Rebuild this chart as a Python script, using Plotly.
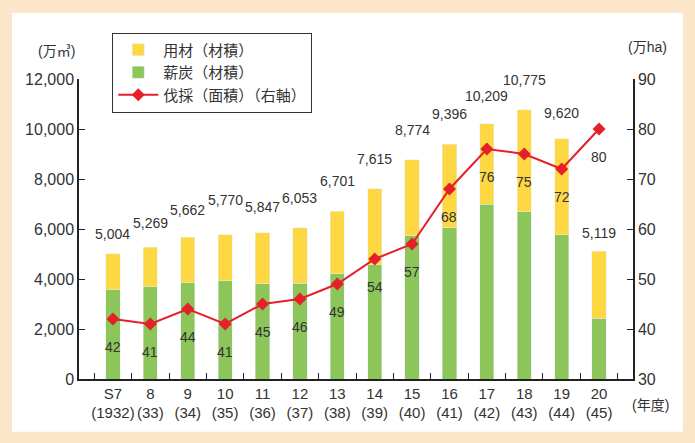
import plotly.graph_objects as go

# 年度 (昭和) と西暦
years = ["S7<br>(1932)", "8<br>(33)", "9<br>(34)", "10<br>(35)", "11<br>(36)", "12<br>(37)",
         "13<br>(38)", "14<br>(39)", "15<br>(40)", "16<br>(41)", "17<br>(42)", "18<br>(43)",
         "19<br>(44)", "20<br>(45)"]

# 材積 (万m3)
total_volume = [5004, 5269, 5662, 5770, 5847, 6053, 6701, 7615, 8774, 9396, 10209, 10775, 9620, 5119]
fuel_volume = [3570, 3700, 3860, 3930, 3820, 3840, 4210, 4570, 5730, 6060, 7000, 6700, 5770, 2440]
timber_volume = [t - f for t, f in zip(total_volume, fuel_volume)]

# 伐採面積 (万ha)
cut_area = [42, 41, 44, 41, 45, 46, 49, 54, 57, 68, 76, 75, 72, 80]

# extra lift (px) for the total labels above each bar
label_lift = [6, 10, 13, 21, 12, 16, 16, 16, 16, 16, 14, 16, 12, 4]

YELLOW = "#FDD843"
GREEN = "#8CC55A"
RED = "#E5202A"
TEXT = "#333333"
FONT = "Liberation Sans, Noto Sans CJK JP, sans-serif"

fig = go.Figure()

fig.add_trace(go.Bar(x=years, y=fuel_volume, name="薪炭（材積）", marker_color=GREEN,
                     width=0.38, legendrank=2))
fig.add_trace(go.Bar(x=years, y=timber_volume, name="用材（材積）", marker_color=YELLOW,
                     width=0.38, legendrank=1))
fig.add_trace(go.Scatter(x=years, y=cut_area, name="伐採（面積）（右軸）", yaxis="y2",
                         mode="lines+markers",
                         line=dict(color=RED, width=2),
                         marker=dict(symbol="diamond", size=10, color=RED),
                         legendrank=3))

annotations = []
for x, t, lift in zip(years, total_volume, label_lift):
    annotations.append(dict(x=x, y=t, text=f"{t:,}", showarrow=False, yanchor="bottom",
                            yshift=4 + lift, font=dict(size=14, color=TEXT, family=FONT)))
for x, a in zip(years, cut_area):
    annotations.append(dict(x=x, y=a, yref="y2", text=str(a), showarrow=False,
                            yanchor="middle", yshift=-28,
                            font=dict(size=14, color=TEXT, family=FONT)))

unit_font = dict(size=14, color=TEXT, family=FONT)
annotations += [
    dict(x=-0.040, y=1.095, xref="paper", yref="paper", text="(万㎥)", showarrow=False,
         xanchor="center", yanchor="middle", font=unit_font),
    dict(x=1.027, y=1.108, xref="paper", yref="paper", text="(万ha)", showarrow=False,
         xanchor="center", yanchor="middle", font=unit_font),
    dict(x=1.031, y=-0.086, xref="paper", yref="paper", text="(年度)", showarrow=False,
         xanchor="center", yanchor="middle", font=unit_font),
]

fig.update_layout(
    width=695, height=443,
    barmode="stack",
    paper_bgcolor="#FCE6CA",
    plot_bgcolor="white",
    margin=dict(l=79, r=62, t=79, b=64, autoexpand=False),
    font=dict(family=FONT, size=15, color=TEXT),
    showlegend=True,
    legend=dict(x=0.06, y=1.155, xanchor="left", yanchor="top", bgcolor="white",
                bordercolor="#333333", borderwidth=1, font=dict(size=15, color=TEXT),
                traceorder="normal", itemwidth=40),
    annotations=annotations,
    shapes=[dict(type="rect", xref="paper", yref="paper", x0=-0.121, x1=1.09, y0=-0.176, y1=1.221,
                 fillcolor="white", line=dict(width=0), layer="below")],
    xaxis=dict(showline=True, linecolor="#222222", linewidth=1.5, ticks="inside",
               tickson="boundaries", ticklen=6, tickcolor="#222222", showgrid=False,
               tickangle=0, automargin=False, tickfont=dict(size=15)),
    yaxis=dict(range=[0, 12000], dtick=2000, tickformat=",", showline=True, linecolor="#222222",
               linewidth=1.5, ticks="inside", ticklen=6, tickcolor="#222222", showgrid=False,
               zeroline=False, automargin=False, tickfont=dict(size=16)),
    yaxis2=dict(range=[30, 90], dtick=10, overlaying="y", side="right", showline=True,
                linecolor="#222222", linewidth=1.5, ticks="inside", ticklen=6,
                tickcolor="#222222", showgrid=False, zeroline=False, automargin=False,
                tickfont=dict(size=16)),
)

fig.write_html("out.html", config={"displayModeBar": False},
               post_script="document.body.style.margin='0';")
